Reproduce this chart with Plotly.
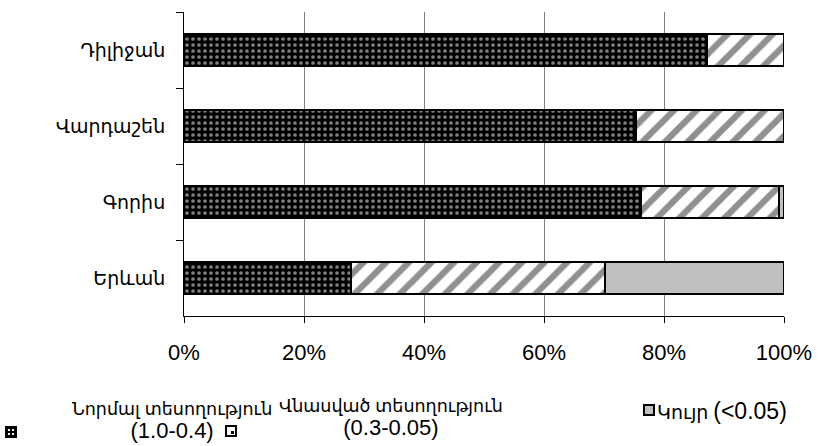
import plotly.graph_objects as go

# Share of each visual-acuity group by town, percent
towns = ["Դիլիջան", "Վարդաշեն", "Գորիս", "Երևան"]
normal = [87.2, 75.3, 76.2, 27.9]
damaged = [12.8, 24.7, 23.0, 42.3]
blind = [0.0, 0.0, 0.8, 29.8]

x_ticks = [0, 20, 40, 60, 80, 100]
x_labels = ["0%", "20%", "40%", "60%", "80%", "100%"]
grid_at = [20, 40, 60, 80]

series_names = ["Նորմալ տեսողություն", "Վնասված տեսողություն", "Կույր"]
series_ranges = ["(1.0-0.4)", "(0.3-0.05)", "(<0.05)"]

FONT = "Liberation Sans, DejaVu Sans, Arial, sans-serif"

W, H = 820, 446
L, R, T, B = 184, 36, 12, 130
PW, PH = W - L - R, H - T - B


def px(x):
    return (x - L) / PW


def py(y):
    return (H - B - y) / PH


def sized(s, size):
    return f'<span style="font-size:{size}px">{s}</span>'


fig = go.Figure()

fig.add_trace(go.Bar(
    y=towns, x=normal, orientation="h", name=series_names[0], width=0.42,
    marker=dict(color="black",
                line=dict(color="black", width=2),
                pattern=dict(shape=".", fgcolor="white", bgcolor="black",
                             size=6, solidity=0.3)),
))
fig.add_trace(go.Bar(
    y=towns, x=damaged, orientation="h", name=series_names[1], width=0.42,
    marker=dict(color="white",
                line=dict(color="black", width=2),
                pattern=dict(shape="/", fgcolor="#222222", bgcolor="white",
                             size=16, solidity=0.4)),
))
fig.add_trace(go.Bar(
    y=towns, x=blind, orientation="h", name=series_names[2], width=0.42,
    marker=dict(color="#c0c0c0", line=dict(color="black", width=2)),
))

# Legend drawn by hand below the plot
shapes = []
annotations = []


def box(x0, y0, size, fill, line="black", lw=2):
    shapes.append(dict(type="rect", xref="paper", yref="paper",
                       x0=px(x0), x1=px(x0 + size), y0=py(y0 + size), y1=py(y0),
                       fillcolor=fill, line=dict(color=line, width=lw)))


# key for normal vision: dark box with white dots
box(6, 427, 10, "black")
for dx, dy in [(2, 2), (6, 2), (2, 6), (6, 6)]:
    box(6 + dx, 427 + dy, 2, "white", line="white", lw=0)
# key for impaired vision: white box with a dark corner mark
box(226, 426, 10, "white")
box(231, 431, 3, "black", lw=0)
# key for blindness: grey box
box(644, 405, 10, "#c0c0c0")

legend_font = dict(family=FONT, size=17.5, color="black")
annotations.append(dict(xref="paper", yref="paper", x=px(172), y=py(421),
                        text=series_names[0] + "<br>" + sized(series_ranges[0], 22),
                        showarrow=False, align="center",
                        xanchor="center", yanchor="middle", font=legend_font))
annotations.append(dict(xref="paper", yref="paper", x=px(391), y=py(418),
                        text=series_names[1] + "<br>" + sized(series_ranges[1], 22),
                        showarrow=False, align="center",
                        xanchor="center", yanchor="middle", font=legend_font))
annotations.append(dict(xref="paper", yref="paper", x=px(655), y=py(411),
                        text=sized(series_names[2], 19) + " " + sized(series_ranges[2], 23),
                        showarrow=False, align="left",
                        xanchor="left", yanchor="middle", font=legend_font))

fig.update_layout(
    width=W, height=H,
    margin=dict(l=L, r=R, t=T, b=B, autoexpand=False),
    paper_bgcolor="white", plot_bgcolor="white",
    barmode="stack", bargap=0.58, showlegend=False,
    font=dict(family=FONT, size=19, color="black"),
    shapes=shapes, annotations=annotations,
    xaxis=dict(range=[0, 100], tickmode="array", tickvals=x_ticks,
               ticktext=x_labels, showgrid=False, automargin=False,
               minor=dict(tickmode="array", tickvals=grid_at, ticks="",
                          showgrid=True, gridcolor="#808080", gridwidth=1),
               showline=True, linecolor="black", linewidth=1,
               ticks="outside", ticklen=6, tickcolor="black",
               zeroline=False, ticklabelstandoff=11,
               tickfont=dict(family=FONT, size=22)),
    yaxis=dict(autorange="reversed", showline=True, linecolor="black",
               linewidth=1, ticks="outside", tickson="boundaries",
               ticklen=7, tickcolor="black", showgrid=False,
               ticklabelstandoff=14, automargin=False,
               tickfont=dict(family=FONT, size=19)),
)

fig.write_html("out.html")
